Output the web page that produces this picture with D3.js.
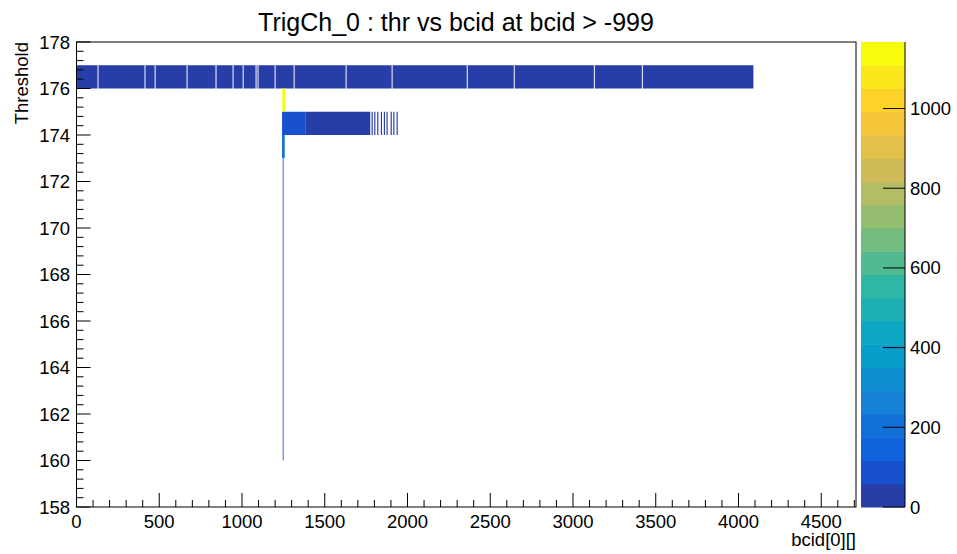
<!DOCTYPE html>
<html>
<head>
<meta charset="utf-8">
<script src="https://cdn.jsdelivr.net/npm/d3@7"></script>
<style>
  html, body { margin: 0; padding: 0; background: #fff; }
  svg { display: block; font-family: "Liberation Sans", Arial, Helvetica, sans-serif; }
</style>
</head>
<body>
<svg id="chart" width="957" height="554"></svg>
<script>
// ---------------- data ----------------
const titleText = "TrigCh_0 : thr vs bcid at bcid > -999";
const xTitle = "bcid[0][]";
const yTitle = "Threshold";
const xDomain = [0, 4710];
const yDomain = [158, 178];
const xMajorTicks = [0, 500, 1000, 1500, 2000, 2500, 3000, 3500, 4000, 4500];
const yMajorTicks = [158, 160, 162, 164, 166, 168, 170, 172, 174, 176, 178];
const zTicks = [0, 200, 400, 600, 800, 1000];
const nContours = 20;

// threshold 176 row: bcid segments [start, end] and counts
const row176Start = [0, 133, 417, 478, 671, 846, 949, 1010, 1088, 1100, 1203, 1318, 1632, 1910, 2364, 2648, 3132, 3422];
const row176End   = [127, 411, 472, 665, 840, 943, 1004, 1082, 1094, 1197, 1312, 1626, 1904, 2358, 2642, 3126, 3416, 4090];
const row176Count = [30, 30, 30, 30, 30, 30, 30, 30, 30, 30, 30, 30, 30, 30, 30, 30, 30, 30];

// threshold 175 row
const row175Start = [1244];
const row175End   = [1262];
const row175Count = [1167];

// threshold 174 row
const row174Start = [1242, 1382, 1783, 1799, 1817, 1839, 1857, 1873, 1898, 1914, 1934];
const row174End   = [1382, 1775, 1790, 1806, 1824, 1846, 1864, 1880, 1905, 1921, 1941];
const row174Count = [95, 30, 30, 30, 30, 30, 30, 30, 30, 30, 30];

// threshold 173 row
const row173Start = [1242];
const row173End   = [1258];
const row173Count = [200];

// thin column, thresholds 160..172
const colThr   = [160, 161, 162, 163, 164, 165, 166, 167, 168, 169, 170, 171, 172];
const colCount = [60, 60, 60, 60, 60, 60, 60, 60, 60, 60, 60, 60, 60];
const colStart = 1246, colEnd = 1251;

// ROOT kBird palette stops
const birdStops = [0.0, 0.125, 0.25, 0.375, 0.5, 0.625, 0.75, 0.875, 1.0];
const birdR = [0.2082, 0.0592, 0.0780, 0.0232, 0.1802, 0.5301, 0.8186, 0.9956, 0.9764];
const birdG = [0.1664, 0.3599, 0.5041, 0.6419, 0.7178, 0.7492, 0.7328, 0.7862, 0.9832];
const birdB = [0.5293, 0.8684, 0.8385, 0.7914, 0.6425, 0.4662, 0.3499, 0.1968, 0.0539];

// ---------------- build cells ----------------
const cells = [];
function addRow(thr, s, e, c) { s.forEach((v, i) => cells.push({ thr, x0: v, x1: e[i], z: c[i] })); }
addRow(176, row176Start, row176End, row176Count);
addRow(175, row175Start, row175End, row175Count);
addRow(174, row174Start, row174End, row174Count);
addRow(173, row173Start, row173End, row173Count);
colThr.forEach((t, i) => cells.push({ thr: t, x0: colStart, x1: colEnd, z: colCount[i], thin: true }));

const zMax = d3.max(cells, d => d.z);

const birdR255 = birdR.map(v => v * 255), birdG255 = birdG.map(v => v * 255), birdB255 = birdB.map(v => v * 255);
const rS = d3.scaleLinear().domain(birdStops).range(birdR255);
const gS = d3.scaleLinear().domain(birdStops).range(birdG255);
const bS = d3.scaleLinear().domain(birdStops).range(birdB255);
function paletteAt(f) { return d3.rgb(rS(f), gS(f), bS(f)).formatHex(); }
function bandColor(i) {
  const idx = Math.floor((i + 0.99) * 255 / nContours);
  return paletteAt(Math.min(idx, 254) / 254);
}
function zColor(z) {
  let i = Math.floor(0.01 + z * nContours / zMax);
  if (i >= nContours) i = nContours - 1;
  return bandColor(i);
}

// ---------------- layout ----------------
const svg = d3.select("#chart");
const L = 76.5, R = 856, T = 42, B = 507;
const x = d3.scaleLinear().domain(xDomain).range([L, R]);
const y = d3.scaleLinear().domain(yDomain).range([B, T]);

// cells
svg.append("g").selectAll("rect").data(cells).join("rect")
  .attr("x", d => x(d.x0))
  .attr("width", d => x(d.x1) - x(d.x0))
  .attr("y", d => y(d.thr + 1))
  .attr("height", d => y(d.thr) - y(d.thr + 1))
  .attr("fill", d => zColor(d.z));

// frame
svg.append("rect").attr("x", L).attr("y", T).attr("width", R - L).attr("height", B - T)
  .attr("fill", "none").attr("stroke", "#000").attr("stroke-width", 1);

// x axis ticks
const xMinor = d3.range(0, 4701, 100);
svg.append("g").selectAll("line").data(xMinor).join("line")
  .attr("x1", d => x(d)).attr("x2", d => x(d))
  .attr("y1", B).attr("y2", d => B - (d % 500 === 0 ? 14 : 7))
  .attr("stroke", "#000").attr("stroke-width", 1);
svg.append("g").selectAll("text").data(xMajorTicks).join("text")
  .attr("x", d => x(d)).attr("y", 528)
  .attr("text-anchor", "middle").attr("font-size", 18.5).text(d => d);

// y axis ticks
const yMinor = d3.range(0, 51).map(i => 158 + i * 0.4);
svg.append("g").selectAll("line").data(yMinor).join("line")
  .attr("y1", d => y(d)).attr("y2", d => y(d))
  .attr("x1", L).attr("x2", (d, i) => L + (i % 5 === 0 ? 14 : 7))
  .attr("stroke", "#000").attr("stroke-width", 1);
svg.append("g").selectAll("text").data(yMajorTicks).join("text")
  .attr("x", 70).attr("y", d => y(d) + 6.5)
  .attr("text-anchor", "end").attr("font-size", 18.5).text(d => d);

// titles
svg.append("text").attr("x", 456).attr("y", 31).attr("text-anchor", "middle")
  .attr("font-size", 25).text(titleText);
svg.append("text").attr("x", R).attr("y", 546).attr("text-anchor", "end")
  .attr("font-size", 18.5).text(xTitle);
svg.append("text").attr("transform", `translate(28,${T}) rotate(-90)`)
  .attr("text-anchor", "end").attr("font-size", 18.5).text(yTitle);

// colour bar
const cbL = 861, cbR = 905;
const z = d3.scaleLinear().domain([0, zMax]).range([B, T]);
const bands = d3.range(nContours);
svg.append("g").selectAll("rect").data(bands).join("rect")
  .attr("x", cbL).attr("width", cbR - cbL)
  .attr("y", i => z((i + 1) * zMax / nContours))
  .attr("height", i => z(i * zMax / nContours) - z((i + 1) * zMax / nContours) + 0.5)
  .attr("fill", i => bandColor(i));
svg.append("line").attr("x1", cbR).attr("x2", cbR).attr("y1", T).attr("y2", B)
  .attr("stroke", "#000").attr("stroke-width", 1);
svg.append("g").selectAll("line").data(zTicks).join("line")
  .attr("x1", cbR).attr("x2", cbR - 22)
  .attr("y1", d => z(d)).attr("y2", d => z(d))
  .attr("stroke", "#000").attr("stroke-width", 1);
svg.append("g").selectAll("text").data(zTicks).join("text")
  .attr("x", 910).attr("y", d => z(d) + 6.5)
  .attr("font-size", 18.5).text(d => d);
</script>
</body>
</html>
